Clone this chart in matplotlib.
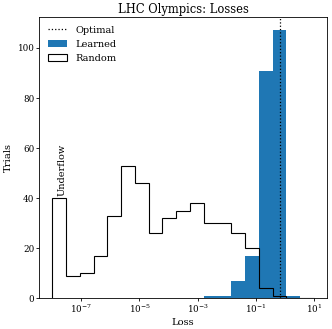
import numpy as np
import matplotlib
matplotlib.use("Agg")
import matplotlib.pyplot as plt

plt.rcParams['font.family'] = 'serif'
plt.rcParams['mathtext.fontset'] = 'dejavuserif'

# bin edges in loss (first bin doubles as the underflow bin)
bin_edges = np.logspace(-8, 1, 20)
bin_centers = np.sqrt(bin_edges[:-1] * bin_edges[1:])

# trials per bin
random_counts = [40, 9, 10, 17, 33, 53, 46, 26, 32, 35, 38, 30, 30, 26, 20, 4, 1, 0, 0]
learned_counts = [0, 0, 0, 0, 0, 0, 0, 0, 0, 0, 0, 1, 1, 7, 17, 91, 107, 1, 0]
optimal_loss = 0.69

fig = plt.figure(figsize=(3.32, 3.29), dpi=100)
ax = fig.add_axes([0.118, 0.094, 0.867, 0.854])

ax.axvline(optimal_loss, color='black', linestyle=':', linewidth=0.9, label='Optimal')
ax.hist(bin_centers, bins=bin_edges, weights=learned_counts, color='C0', label='Learned')
ax.hist(bin_centers, bins=bin_edges, weights=random_counts, histtype='step',
        color='black', linewidth=0.8, label='Random')

ax.text(10 ** -7.65, 41, 'Underflow', rotation=90, ha='center', va='bottom', fontsize=7)

ax.set_xscale('log')
ax.set_title('LHC Olympics: Losses', fontsize=8.3, pad=3)
ax.set_xlabel('Loss', fontsize=7.2, labelpad=2)
ax.set_ylabel('Trials', fontsize=7.2, labelpad=3)
ax.tick_params(labelsize=6.3, length=2, pad=1.5, width=0.6)
ax.tick_params(which='minor', length=1.2, width=0.5)
for s in ax.spines.values():
    s.set_linewidth(0.6)
ax.legend(loc='upper left', frameon=False, fontsize=7)

fig.savefig('out.png', dpi=100)
